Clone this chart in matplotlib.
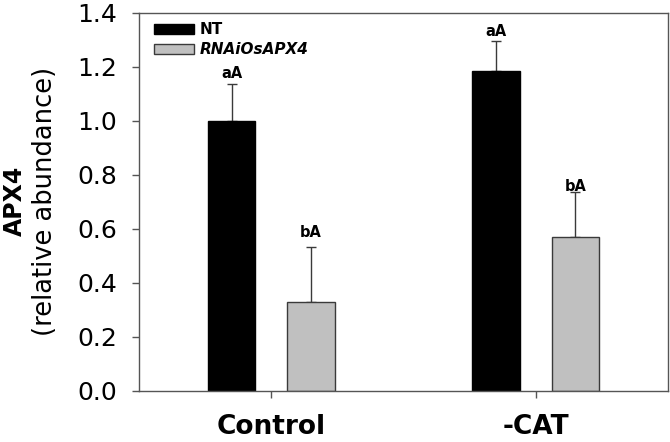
import matplotlib
matplotlib.use("Agg")
import matplotlib.pyplot as plt
import numpy as np

# ---- data ----
categories = ["Control", "-CAT"]
series_names = ["NT", "RNAiOsAPX4"]
nt_values = [1.00, 1.185]
nt_errors = [0.135, 0.109]
rnai_values = [0.328, 0.570]
rnai_errors = [0.205, 0.165]
nt_labels = ["aA", "aA"]
rnai_labels = ["bA", "bA"]
yticks = [0.0, 0.2, 0.4, 0.6, 0.8, 1.0, 1.2, 1.4]

# ---- style ----
plt.rcParams['font.family'] = ['DejaVu Sans']
edge = '#3a3a3a'
spine_col = '#555555'

fig = plt.figure(figsize=(6.70, 4.42), dpi=100)
ax = fig.add_axes([139/670, 1 - 390.7/442, (668-139)/670, (390.7-12.7)/442])

x = np.arange(len(categories))
width = 0.18
off = 0.15

ax.bar(x - off, nt_values, width, color='black', edgecolor='black', linewidth=1, label=series_names[0], zorder=2)
ax.bar(x + off, rnai_values, width, color='#c0c0c0', edgecolor=edge, linewidth=1, label=series_names[1], zorder=2)

ax.errorbar(x - off, nt_values, yerr=[np.zeros(len(x)), nt_errors], fmt='none', ecolor=edge,
            elinewidth=1, capsize=3.8, capthick=1, zorder=1)
ax.errorbar(x + off, rnai_values, yerr=[np.zeros(len(x)), rnai_errors], fmt='none', ecolor=edge,
            elinewidth=1, capsize=3.8, capthick=1, zorder=1)

# gap (points) between cap and label baseline
nt_gap = [4.3, 3.6]
rnai_gap = [7.2, 0.7]
for i in range(len(x)):
    ax.annotate(nt_labels[i], (x[i] - off, nt_values[i] + nt_errors[i]), xytext=(0, nt_gap[i]),
                textcoords='offset points', ha='center', va='baseline', fontsize=10.5, fontweight='bold')
    ax.annotate(rnai_labels[i], (x[i] + off, rnai_values[i] + rnai_errors[i]), xytext=(0, rnai_gap[i]),
                textcoords='offset points', ha='center', va='baseline', fontsize=10.5, fontweight='bold')

ax.set_xlim(-0.5, 1.5)
ax.set_ylim(0, 1.4)
ax.set_yticks(yticks)
ax.set_yticklabels([f"{v:.1f}" for v in yticks])
ax.set_xticks(x)
ax.set_xticklabels(categories, fontsize=19, fontweight='bold')
ax.tick_params(axis='y', labelsize=18, length=5, width=1, color=spine_col, pad=10.5, direction='out')
ax.tick_params(axis='x', length=5, width=1, color=spine_col, pad=12, direction='out')

for s in ax.spines.values():
    s.set_color(spine_col)
    s.set_linewidth(1)

fig.text(15/670, 1 - 201/442, "APX4", rotation=90, ha='center', va='center', fontsize=17, fontweight='bold')
fig.text(45/670, 1 - 201/442, "(relative abundance)", rotation=90, ha='center', va='center', fontsize=18.5)

leg = ax.legend(loc='upper left', bbox_to_anchor=((154-139)/529, (390.7-22)/378), frameon=False,
                handlelength=2.6, handleheight=0.62, handletextpad=0.4,
                labelspacing=0.36, borderpad=0, borderaxespad=0, prop={'weight': 'bold', 'size': 11})
leg.get_texts()[1].set_fontstyle('italic')

fig.savefig("out.png", dpi=100)
